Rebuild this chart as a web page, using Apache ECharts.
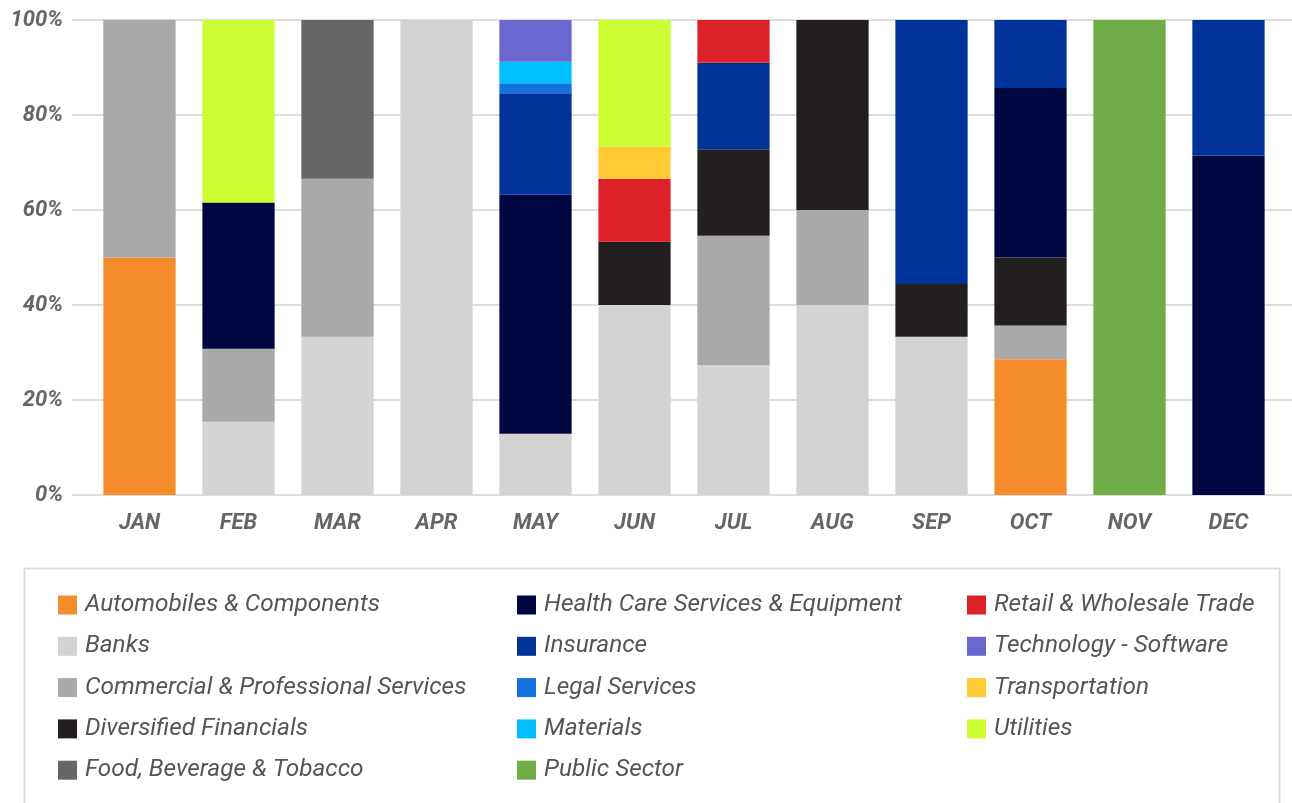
<!DOCTYPE html>
<html>
<head>
<meta charset="utf-8">
<script src="https://cdn.jsdelivr.net/npm/echarts@6/dist/echarts.min.js"></script>
<style>
  html, body { margin: 0; padding: 0; background: #fff; }
  #chart { width: 1292px; height: 803px; }
</style>
</head>
<body>
<div id="chart"></div>
<script>
// months on the x axis
const months = ['JAN', 'FEB', 'MAR', 'APR', 'MAY', 'JUN', 'JUL', 'AUG', 'SEP', 'OCT', 'NOV', 'DEC']

// sectors, bottom of the stack first
const sectors = [
  'Automobiles & Components',
  'Banks',
  'Commercial & Professional Services',
  'Diversified Financials',
  'Food, Beverage & Tobacco',
  'Health Care Services & Equipment',
  'Insurance',
  'Legal Services',
  'Materials',
  'Public Sector',
  'Retail & Wholesale Trade',
  'Technology - Software',
  'Transportation',
  'Utilities'
]

const sectorColors = [
  '#F58C2C', '#D3D3D3', '#A9A9A9', '#231F20', '#666666', '#000640', '#003399',
  '#1470DC', '#00BFFF', '#70AD47', '#DC2128', '#6A67CE', '#FFCA33', '#CCFF33'
]

// share of each month (%), one array per sector
const automobiles = [50, null, null, null, null, null, null, null, null, 28.6, null, null]
const banks = [null, 15.4, 33.3, 100, 12.9, 40, 27.3, 40, 33.3, null, null, null]
const commercial = [50, 15.4, 33.3, null, null, null, 27.3, 20, null, 7.1, null, null]
const diversified = [null, null, null, null, null, 13.3, 18.2, 40, 11.1, 14.3, null, null]
const food = [null, null, 33.4, null, null, null, null, null, null, null, null, null]
const healthCare = [null, 30.8, null, null, 50.3, null, null, null, null, 35.7, null, 71.4]
const insurance = [null, null, null, null, 21.4, null, 18.2, null, 55.6, 14.3, null, 28.6]
const legal = [null, null, null, null, 2.1, null, null, null, null, null, null, null]
const materials = [null, null, null, null, 4.5, null, null, null, null, null, null, null]
const publicSector = [null, null, null, null, null, null, null, null, null, null, 100, null]
const retail = [null, null, null, null, null, 13.3, 9.1, null, null, null, null, null]
const technology = [null, null, null, null, 8.8, null, null, null, null, null, null, null]
const transportation = [null, null, null, null, null, 6.7, null, null, null, null, null, null]
const utilities = [null, 38.4, null, null, null, 26.7, null, null, null, null, null, null]

const sectorData = [
  automobiles, banks, commercial, diversified, food, healthCare, insurance,
  legal, materials, publicSector, retail, technology, transportation, utilities
]

const yTicks = [0, 20, 40, 60, 80, 100]

const chart = echarts.init(document.getElementById('chart'))

const labelFont = {
  fontFamily: 'Roboto',
  fontStyle: 'italic',
  fontWeight: 'bold',
  fontSize: 22,
  color: '#666'
}

function makeLegend (names, left) {
  return {
    orient: 'vertical',
    left: left,
    top: 588,
    itemWidth: 19,
    itemHeight: 19,
    itemGap: 17.3,
    icon: 'rect',
    selectedMode: false,
    data: names,
    textStyle: {
      fontFamily: 'Roboto',
      fontStyle: 'italic',
      fontSize: 24.4,
      lineHeight: 24,
      color: '#555',
      padding: [0, 0, 0, 3]
    }
  }
}

const series = sectors.map((name, i) => ({
  name: name,
  type: 'bar',
  stack: 'total',
  xAxisIndex: 1,
  yAxisIndex: 1,
  barWidth: '73%',
  itemStyle: { color: sectorColors[i] },
  data: sectorData[i]
}))

const option = {
  animation: false,
  color: sectorColors,
  grid: [
    // grid 0 only carries the split lines and y labels
    { left: 72, right: 0, top: 20, bottom: 308 },
    { left: 90, right: 14, top: 20, bottom: 308 }
  ],
  xAxis: [
    { gridIndex: 0, type: 'value', show: false },
    {
      gridIndex: 1,
      type: 'category',
      data: months,
      axisLine: { show: false },
      axisTick: { show: false },
      axisLabel: Object.assign({ margin: 17 }, labelFont)
    }
  ],
  yAxis: [
    {
      gridIndex: 0,
      type: 'value',
      min: yTicks[0],
      max: yTicks[yTicks.length - 1],
      interval: 20,
      axisLine: { show: false },
      axisTick: { show: false },
      splitLine: { lineStyle: { color: '#dddddd', width: 2 } },
      axisLabel: Object.assign({ margin: 9, formatter: '{value}%' }, labelFont)
    },
    {
      gridIndex: 1,
      type: 'value',
      min: 0,
      max: 100,
      interval: 20,
      show: false,
      splitLine: { show: false }
    }
  ],
  legend: [
    makeLegend(sectors.slice(0, 5), 53),
    makeLegend(sectors.slice(5, 10), 512),
    makeLegend(sectors.slice(10), 962)
  ],
  graphic: [{
    type: 'rect',
    left: 22,
    top: 566,
    shape: { width: 1255, height: 300 },
    style: { fill: 'none', stroke: '#dddddd', lineWidth: 2 },
    silent: true
  }],
  series: series
}

chart.setOption(option)
</script>
</body>
</html>
